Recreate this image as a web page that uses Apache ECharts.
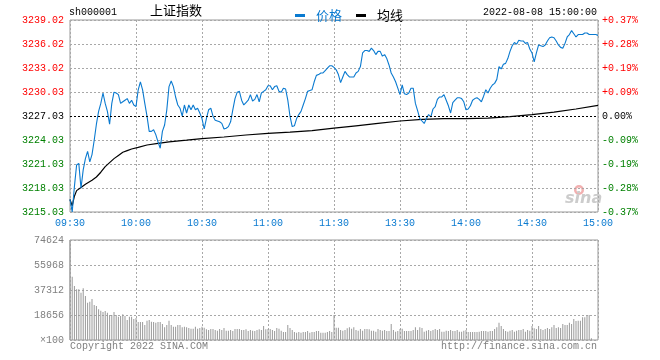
<!DOCTYPE html>
<html>
<head>
<meta charset="utf-8">
<script src="https://cdn.jsdelivr.net/npm/echarts@6/dist/echarts.min.js"></script>
<style>
html,body{margin:0;padding:0;background:#fff;}
#chart{width:660px;height:360px;}
</style>
</head>
<body>
<div id="chart"></div>
<script>
// ---------- data ----------
const symbol = 'sh000001';
const title = '上证指数';
const stamp = '2022-08-08 15:00:00';
const timeTicks = ['09:30','10:00','10:30','11:00','11:30','13:30','14:00','14:30','15:00'];
const priceTicks = ['3215.03','3218.03','3221.03','3224.03','3227.03','3230.03','3233.02','3236.02','3239.02'];
const pctTicks = ['-0.37%','-0.28%','-0.19%','-0.09%','0.00%','+0.09%','+0.19%','+0.28%','+0.37%'];
const volTicks = ['×100','18656','37312','55968','74624'];
const preClose = 3227.03;
const priceMin = 3215.03;
const priceMax = 3239.02;
const volMax = 74624;

// one value per minute, 09:30-11:30 then 13:01-15:00 (241 points)
const price = [
3216.6,3215.03,3218.2,3220.9,3221.1,3218.0,3220.3,3221.7,3222.6,3221.3,
3222.2,3224.0,3226.0,3227.6,3228.6,3229.9,3228.6,3227.6,3226.0,3228.6,
3230.0,3229.9,3229.7,3228.6,3228.8,3229.0,3229.2,3228.6,3229.0,3228.4,
3228.2,3230.3,3231.3,3230.3,3228.6,3227.0,3225.1,3225.1,3225.3,3224.7,
3223.8,3223.0,3225.1,3225.9,3227.8,3230.7,3231.4,3230.7,3229.4,3228.4,
3228.0,3227.0,3228.4,3227.4,3228.4,3227.8,3228.4,3227.8,3228.0,3227.4,
3226.7,3225.4,3226.7,3227.8,3228.0,3227.0,3226.5,3226.4,3226.3,3226.1,
3225.4,3225.5,3225.7,3226.3,3227.8,3229.2,3230.0,3230.1,3229.0,3228.4,
3228.7,3229.0,3229.7,3228.9,3229.1,3229.7,3228.8,3229.9,3230.1,3230.3,
3230.8,3230.8,3230.3,3230.7,3230.8,3230.1,3230.0,3230.5,3230.4,3229.0,
3227.0,3225.7,3225.8,3226.7,3227.2,3227.6,3228.4,3229.2,3230.1,3230.2,
3230.3,3231.3,3232.1,3232.2,3232.4,3232.4,3232.7,3233.0,3233.3,3233.3,
3233.1,
3232.8,3232.2,3231.2,3231.9,3232.6,3232.2,3231.9,3231.9,3231.9,3232.4,
3232.6,3233.2,3234.9,3235.2,3235.2,3235.1,3235.5,3235.2,3234.7,3235.1,
3235.1,3234.5,3234.7,3234.2,3233.4,3232.4,3231.9,3231.3,3230.5,3229.7,
3230.9,3229.8,3229.7,3229.9,3230.5,3230.5,3228.6,3227.7,3226.7,3226.4,
3226.1,3226.7,3227.2,3226.9,3227.9,3228.2,3229.1,3229.4,3229.4,3229.7,
3229.0,3228.3,3227.4,3228.7,3229.0,3229.3,3229.3,3229.2,3228.8,3227.8,
3227.9,3228.3,3229.0,3229.2,3229.3,3229.1,3228.8,3229.5,3230.3,3229.9,
3230.5,3230.9,3231.1,3231.6,3233.2,3232.9,3233.5,3233.6,3234.2,3235.1,
3235.8,3236.2,3236.0,3236.5,3236.4,3236.4,3236.1,3236.2,3235.4,3234.9,
3233.8,3234.9,3235.9,3235.8,3235.7,3235.9,3236.4,3236.8,3236.9,3236.8,
3236.4,3235.9,3235.6,3235.5,3236.1,3236.9,3237.2,3237.7,3237.3,3236.9,
3237.2,3237.2,3237.2,3237.4,3237.4,3237.2,3237.2,3237.2,3237.2,3237.1
];

// average-price line, read at these minute indexes
const avgIdx = [0,1,2,3,5,7,10,12,14,16,18,20,22,24,26,28,31,35,40,45,53,60,70,80,90,100,110,120,130,140,150,160,170,180,190,200,210,220,230,240];
const avgVal = [3216.6,3215.8,3217.0,3217.7,3218.1,3218.5,3219.0,3219.4,3220.0,3220.7,3221.2,3221.7,3222.1,3222.5,3222.7,3222.9,3223.1,3223.4,3223.6,3223.8,3224.0,3224.2,3224.4,3224.65,3224.85,3225.0,3225.2,3225.5,3225.8,3226.1,3226.4,3226.6,3226.7,3226.7,3226.75,3226.95,3227.2,3227.5,3227.9,3228.35];

// volume per minute (x100)
const volume = [
74624,47262,40297,37810,37810,35322,38556,32835,27860,28606,
30596,26119,25373,22885,21890,20895,21641,20397,18656,18656,
20895,18656,17412,17910,19154,17910,14925,17412,17412,15671,
16418,13433,13433,13433,11194,14427,14925,13681,13433,12935,
13433,13433,11940,9453,11194,14427,11194,9950,9950,11194,
11194,9453,9950,9453,8955,8457,8457,9950,8457,8955,
9950,9204,7960,7463,8209,8209,7463,6965,8209,7463,
8955,6965,6965,7463,6716,8209,8209,8209,7463,7463,
7960,6716,7463,6965,6716,7463,7960,7463,10448,7960,
8209,8209,7463,6716,8955,8457,6965,5970,5970,11194,
8955,7463,5970,5473,5970,5473,5970,5970,6716,5473,
5970,5970,6716,6716,5473,5473,5473,5970,6716,5970,
18656,
9204,9204,7463,6965,7463,8706,9453,8458,9453,7463,
6965,8209,6965,8209,8209,7960,6965,6965,6219,8209,
7463,6965,7463,6716,6716,11940,7463,6219,6716,8209,
8458,6716,6716,6716,6716,7463,9453,7463,9453,8955,
6219,6965,7463,6716,7463,8209,7463,8209,6219,6219,
6965,6716,7463,6716,6716,7463,6219,6219,6965,7463,
5970,5970,5970,5970,5970,6219,6716,6716,6716,6219,
6716,6716,8209,9453,12935,10448,8209,6716,6219,6965,
7463,6219,6965,7463,7463,8209,6219,7463,6965,10448,
8706,8209,10448,8209,7463,8209,8955,8209,9453,11194,
8955,9453,8955,11940,11194,11194,12935,11940,15671,14179,
14428,14428,16915,16915,18159,18656,1244,0,0,0
];

// ---------- chart ----------
const BLUE = '#0a7ad0';
const RED = '#ff0000';
const GREEN = '#008000';
const GRID_C = '#a8a8a8';
const MONO = 'Liberation Mono';
const CJK = 'Noto Sans CJK SC';

function tickColor(idx) { return idx > 4 ? RED : (idx < 4 ? GREEN : '#000'); }

const chart = echarts.init(document.getElementById('chart'), null, {renderer: 'canvas'});
const dotted = {show: true, lineStyle: {color: GRID_C, type: [2, 2], width: 1}};

chart.setOption({
  animation: false,
  backgroundColor: '#fff',
  grid: [
    {left: 70, top: 20, width: 528, height: 192, show: true, borderColor: '#999', borderWidth: 1, backgroundColor: 'transparent'},
    {left: 70, top: 240, width: 528, height: 100, show: true, borderColor: '#999', borderWidth: 1, backgroundColor: 'transparent'}
  ],
  legend: {
    left: 290, top: 4, icon: 'rect', itemWidth: 10, itemHeight: 3, itemGap: 14,
    selectedMode: false,
    textStyle: {fontFamily: CJK, fontSize: 13, padding: [0, 0, 0, 6]},
    data: [
      {name: '价格', itemStyle: {color: BLUE}, textStyle: {color: BLUE}},
      {name: '均线', itemStyle: {color: '#000'}, textStyle: {color: '#000'}}
    ]
  },
  xAxis: [
    {
      type: 'value', gridIndex: 0, min: 0, max: 240, interval: 30,
      axisLine: {show: false}, axisTick: {show: false},
      splitLine: dotted,
      axisLabel: {
        margin: 6, color: BLUE, fontFamily: MONO, fontSize: 10,
        formatter: (v) => timeTicks[Math.round(v / 30)],
        showMinLabel: true, showMaxLabel: true
      }
    },
    {
      type: 'value', gridIndex: 1, min: 0, max: 240, interval: 30,
      axisLine: {show: false}, axisTick: {show: false}, axisLabel: {show: false},
      splitLine: dotted
    }
  ],
  yAxis: [
    { // data scale for prices
      type: 'value', gridIndex: 0, min: priceMin, max: priceMax, show: false,
      splitLine: {show: false}
    },
    { // left price tick labels (9 evenly spaced levels)
      type: 'value', gridIndex: 0, min: 0, max: 8, interval: 1, position: 'left',
      axisLine: {show: false}, axisTick: {show: false},
      splitLine: dotted,
      axisLabel: {
        margin: 6, fontFamily: MONO, fontSize: 10,
        formatter: (v) => priceTicks[Math.round(v)],
        color: (v) => tickColor(Math.round(v))
      }
    },
    { // right percentage labels
      type: 'value', gridIndex: 0, min: 0, max: 8, interval: 1, position: 'right',
      axisLine: {show: false}, axisTick: {show: false}, splitLine: {show: false},
      axisLabel: {
        margin: 4, fontFamily: MONO, fontSize: 10,
        formatter: (v) => pctTicks[Math.round(v)],
        color: (v) => tickColor(Math.round(v))
      }
    },
    { // volume
      type: 'value', gridIndex: 1, min: 0, max: volMax, interval: volMax / 4,
      axisLine: {show: false}, axisTick: {show: false},
      splitLine: dotted,
      axisLabel: {
        margin: 6, fontFamily: MONO, fontSize: 10, color: '#808080',
        formatter: (v) => volTicks[Math.round(v / (volMax / 4))]
      }
    }
  ],
  series: [
    {
      name: '价格', type: 'line', xAxisIndex: 0, yAxisIndex: 0,
      data: price.map((v, i) => [i, v]),
      symbol: 'none', smooth: false,
      lineStyle: {color: BLUE, width: 1.1},
      itemStyle: {color: BLUE},
      z: 4,
      markLine: {
        silent: true, symbol: 'none', label: {show: false},
        lineStyle: {color: '#000', type: [2, 2], width: 1},
        data: [{yAxis: preClose}]
      }
    },
    {
      name: '均线', type: 'line', xAxisIndex: 0, yAxisIndex: 0,
      data: avgIdx.map((x, k) => [x, avgVal[k]]),
      symbol: 'none', smooth: false,
      lineStyle: {color: '#000', width: 1.2},
      itemStyle: {color: '#000'},
      z: 3
    },
    {
      name: 'vol', type: 'bar', xAxisIndex: 1, yAxisIndex: 3,
      data: volume.map((v, i) => [i, v]),
      barWidth: 1,
      itemStyle: {color: '#999'},
      z: 2
    }
  ],
  graphic: [
    {type: 'text', left: 69, top: 7, style: {text: symbol, font: '10px "Liberation Mono"', fill: '#000'}},
    {type: 'text', left: 150, top: 4, style: {text: title, font: '13px "Noto Sans CJK SC"', fill: '#000'}},
    {type: 'text', right: 63, top: 7, style: {text: stamp, font: '10px "Liberation Mono"', fill: '#000'}},
    {type: 'text', left: 70, top: 341, style: {text: 'Copyright 2022 SINA.COM', font: '10px "Liberation Mono"', fill: '#808080'}},
    {type: 'text', right: 63, top: 341, style: {text: 'http://finance.sina.com.cn', font: '10px "Liberation Mono"', fill: '#808080'}},
    {type: 'ring', shape: {cx: 579, cy: 190, r: 5, r0: 2.5}, style: {fill: '#f2b0b0'}, silent: true},
    {type: 'text', left: 565, top: 191, style: {text: 'sina', font: 'italic bold 16px "DejaVu Sans"', fill: '#cccccc'}, silent: true}
  ]
});
</script>
</body>
</html>
